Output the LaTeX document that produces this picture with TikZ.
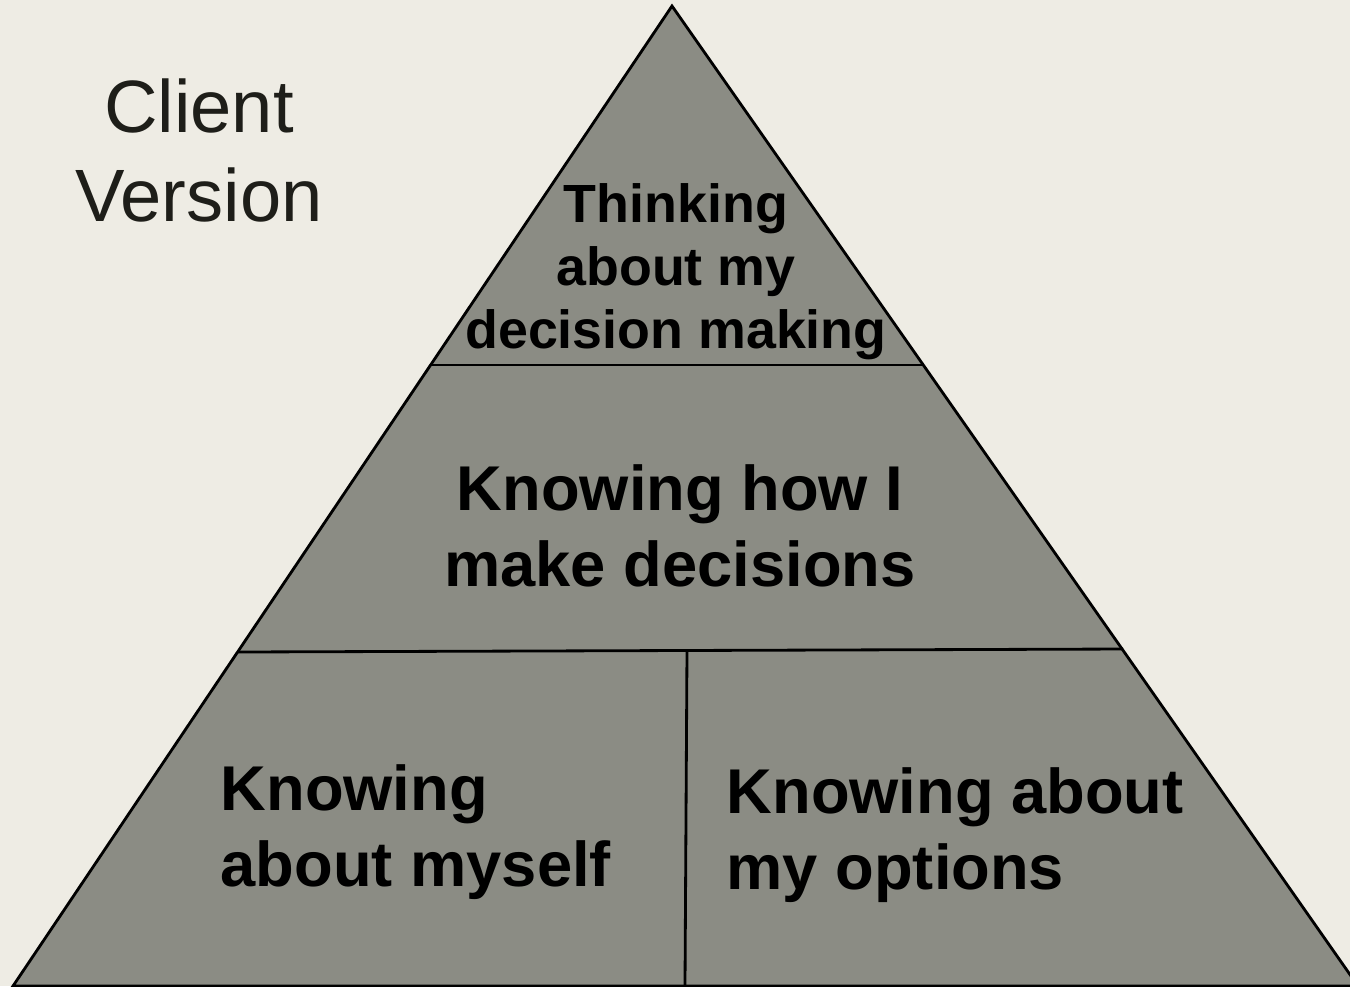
\documentclass[tikz,border=0pt]{standalone}
\usepackage{fontspec}
\setmainfont{Liberation Sans}
\definecolor{paper}{HTML}{EEECE4}
\definecolor{stone}{HTML}{8B8C84}
\definecolor{ink}{HTML}{1E1E19}

\begin{document}
\begin{tikzpicture}
	\tikzstyle{every node}=[inner sep=0pt]
	\tikzstyle{tier}=[font=\bfseries\fontsize{18}{21.6}\selectfont]
	\tikzstyle{toptier}=[font=\bfseries\fontsize{15.3}{17.9}\selectfont]
	\fill[paper] (0,0) rectangle (13.5,-9.86);
	\clip (0,0) rectangle (13.5,-9.86);
	\path (6.72,-.06) coordinate (v1);
	\path (.13,-9.86) coordinate (v2);
	\path (13.58,-9.86) coordinate (v3);
	\path (4.32,-3.65) coordinate (v4);
	\path (9.23,-3.65) coordinate (v5);
	\path (2.38,-6.52) coordinate (v6);
	\path (11.23,-6.49) coordinate (v7);
	\path (6.87,-6.51) coordinate (v8);
	\path (6.85,-9.86) coordinate (v9);
	\filldraw[fill=stone, line width=.8pt] (v1) -- (v2) -- (v3) -- cycle;
	\draw[line width=.8pt] (v4) -- (v5);
	\draw[line width=.8pt] (v6) -- (v7);
	\draw[line width=.8pt] (v8) -- (v9);
	\node (client) [anchor=north, align=center, text=ink, font=\fontsize{21.1}{25.3}\selectfont] at (1.99,-.78) {Client\\Version};
	\node (meta) [toptier, anchor=north, align=center] at (6.76,-1.83) {Thinking\\about my\\decision making};
	\node (how) [tier, anchor=north, align=center] at (6.80,-4.64) {Knowing how I\\make decisions};
	\node (self) [tier, anchor=north west, align=left] at (2.20,-7.64) {Knowing\\about myself};
	\node (options) [tier, anchor=north west, align=left] at (7.26,-7.67) {Knowing about\\my options};
\end{tikzpicture}
\end{document}
